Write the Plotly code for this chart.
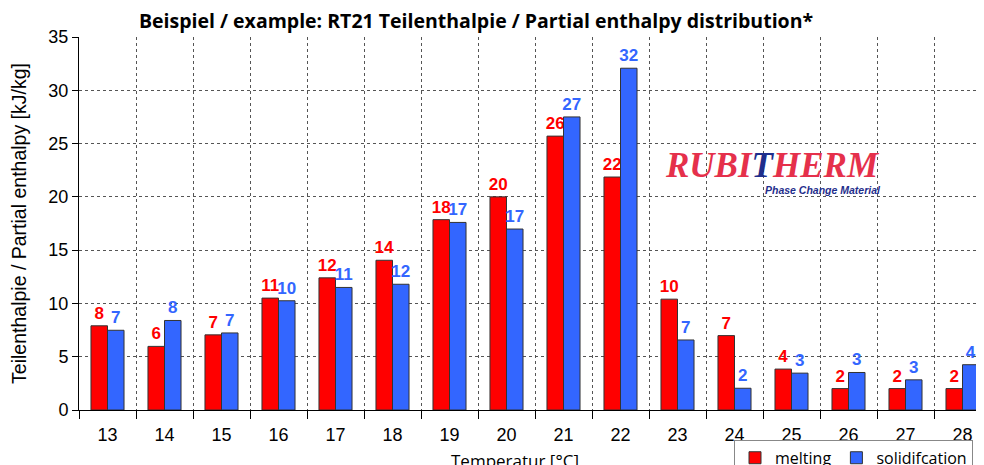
import plotly.graph_objects as go

temperatures = [13, 14, 15, 16, 17, 18, 19, 20, 21, 22, 23, 24, 25, 26, 27, 28]
melting = [7.9, 5.97, 7.05, 10.5, 12.4, 14.05, 17.86, 20.0, 25.7, 21.86, 10.4, 6.98, 3.84, 2.01, 2.01, 2.01]
solidification = [7.48, 8.4, 7.23, 10.25, 11.5, 11.8, 17.6, 16.98, 27.5, 32.07, 6.57, 2.04, 3.46, 3.52, 2.83, 4.25]
melting_labels = ["8", "6", "7", "11", "12", "14", "18", "20", "26", "22", "10", "7", "4", "2", "2", "2"]
solid_labels = ["7", "8", "7", "10", "11", "12", "17", "17", "27", "32", "7", "2", "3", "3", "3", "4"]

RED = "#FF0000"
BLUE = "#3366FF"

# page body has an 8px default margin; figure sized so it fits the 984x465 window
W, H = 976, 457
OFF = 8

fig = go.Figure()
fig.add_trace(go.Bar(
    x=temperatures, y=melting, name="melting",
    marker=dict(color=RED, line=dict(color="#333333", width=1)),
    text=melting_labels, textposition="outside", cliponaxis=False, constraintext="none",
    textfont=dict(family="Liberation Sans, Arial", size=17, color=RED, weight="bold"),
))
fig.add_trace(go.Bar(
    x=temperatures, y=solidification, name="solidifcation",
    marker=dict(color=BLUE, line=dict(color="#333333", width=1)),
    text=solid_labels, textposition="outside", cliponaxis=False, constraintext="none",
    textfont=dict(family="Liberation Sans, Arial", size=17, color=BLUE, weight="bold"),
))

fig.update_layout(
    width=W, height=H,
    margin=dict(l=79 - OFF, r=0, t=37 - OFF, b=H - (410 - OFF), autoexpand=False),
    paper_bgcolor="white", plot_bgcolor="white",
    barmode="group", bargap=0.42, bargroupgap=0,
    title=dict(text="<b>Beispiel / example: RT21 Teilenthalpie / Partial enthalpy distribution*</b>",
               x=(476 - OFF) / W, xanchor="center", y=(H - (21 - OFF)) / H, yanchor="middle",
               font=dict(family="Open Sans", size=19.5, color="black")),
    showlegend=True,
    legend=dict(orientation="h", x=(734 - 79) / 905, xanchor="left", y=-0.08, yanchor="top",
                bordercolor="#888888", borderwidth=1, bgcolor="white",
                font=dict(family="Open Sans", size=16, color="black"),
                itemwidth=30, tracegroupgap=0),
    font=dict(family="Liberation Sans, Arial", color="black"),
)

fig.update_xaxes(
    range=[12.5, 12.5 + 905 / 57], tickvals=temperatures, ticktext=[str(t) for t in temperatures],
    showgrid=False, ticks="", ticklabelstandoff=8, automargin=False,
    tickfont=dict(family="Liberation Sans, Arial", size=18, color="black"),
    showline=True, linecolor="black", linewidth=1, zeroline=False,
    minor=dict(tick0=12.5, dtick=1, ticks="outside", ticklen=8, tickcolor="black",
               showgrid=True, gridcolor="#555555", griddash="dot", gridwidth=1),
)
fig.update_yaxes(
    range=[0, 35], dtick=5, showgrid=True, gridcolor="#555555", griddash="dot", gridwidth=1,
    ticks="outside", ticklen=6, tickcolor="black", automargin=False,
    tickfont=dict(family="Liberation Sans, Arial", size=18, color="black"),
    showline=True, linecolor="black", linewidth=1, zeroline=False,
    title=dict(text="Teilenthalpie / Partial enthalpy [kJ/kg]", standoff=17,
               font=dict(family="Liberation Sans, Arial", size=19.5, color="black")),
)

fig.add_annotation(text="Temperatur [°C]", xref="paper", yref="paper", x=(515 - 79) / 905, y=0,
                   xanchor="center", yanchor="middle", yshift=-50, showarrow=False,
                   font=dict(family="Open Sans", size=17, color="black"))

fig.add_annotation(text="<i><b>RUBI<span style='color:#1F2E8C'>T</span>HERM</b></i>",
                   xref="paper", yref="paper", x=(772 - 79) / 905, y=(410 - 165) / 373,
                   xanchor="center", yanchor="middle", showarrow=False,
                   font=dict(family="Liberation Serif, DejaVu Serif", size=35, color="#E5304B"))
fig.add_annotation(text="<i><b>Phase Change Material</b></i>",
                   xref="paper", yref="paper", x=(823 - 79) / 905, y=(410 - 190) / 373,
                   xanchor="center", yanchor="middle", showarrow=False,
                   font=dict(family="Liberation Sans, Arial", size=10.5, color="#1F2E8C"))

fig.write_html("out.html")
